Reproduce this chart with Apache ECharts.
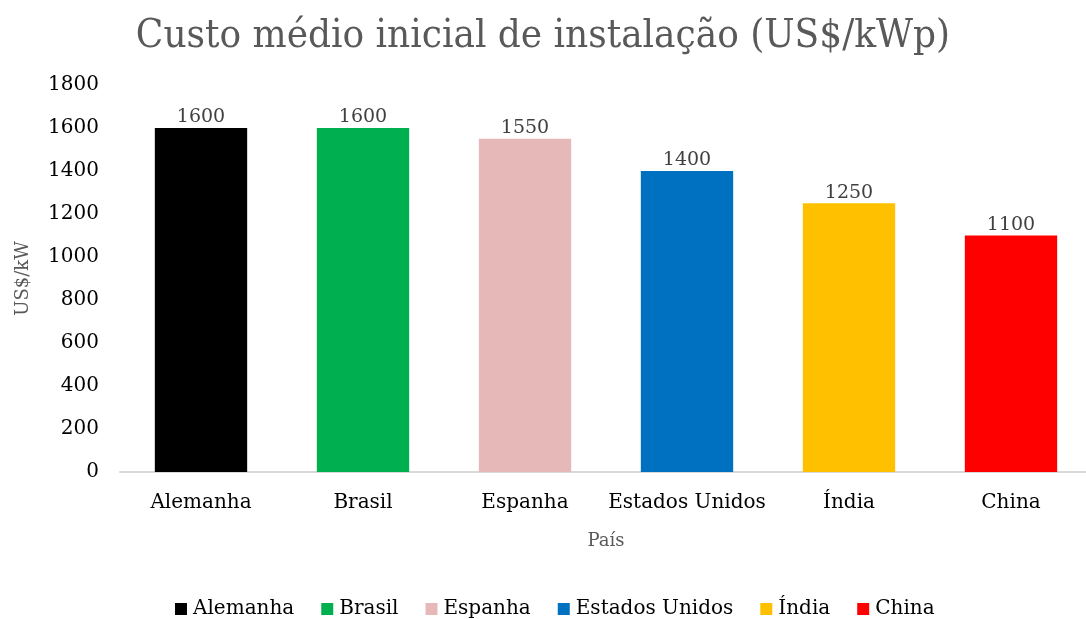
<!DOCTYPE html>
<html lang="pt" style="width: 100%;height:100%">
    <head>
        <meta charset="UTF-8">
        <title>Custo médio</title>
        <script src="https://cdn.jsdelivr.net/npm/echarts@6/dist/echarts.min.js"></script>
    </head>
    <body style="width: 100%;height:100%;margin:0">
        <div id="column" style="width: 1086px;height:619px"></div>
        <script>
            // dados
            const countries = ['Alemanha', 'Brasil', 'Espanha', 'Estados Unidos', 'Índia', 'China'];
            const costs = [1600, 1600, 1550, 1400, 1250, 1100];
            const colors = ['#000000', '#00b050', '#e6b9b8', '#0070c0', '#ffc000', '#ff0000'];
            const yTicks = [0, 200, 400, 600, 800, 1000, 1200, 1400, 1600, 1800];

            const serif = 'DejaVu Serif';
            const condensed = 'DejaVu Serif Condensed';

            // uma série por país, para a legenda
            const series = [];
            for (let i = 0; i < countries.length; i++) {
                const data = countries.map(function (c, j) { return j === i ? costs[i] : null; });
                series.push({
                    name: countries[i],
                    type: 'bar',
                    barWidth: '57%',
                    barGap: '-100%',
                    itemStyle: { color: colors[i] },
                    label: {
                        show: true,
                        position: 'top',
                        distance: 1,
                        color: '#404040',
                        fontFamily: serif,
                        fontSize: 19
                    },
                    data: data
                });
            }

            const myChart = echarts.init(document.getElementById('column'));

            const option = {
                animation: false,
                title: {
                    text: 'Custo médio inicial de instalação (US$/kWp)',
                    left: 'center',
                    top: 12,
                    textStyle: {
                        fontFamily: condensed,
                        fontWeight: 'normal',
                        fontSize: 40,
                        color: '#595959'
                    }
                },
                legend: {
                    bottom: -5,
                    left: 170,
                    icon: 'rect',
                    itemWidth: 12,
                    itemHeight: 12,
                    itemGap: 27,
                    textStyle: {
                        fontFamily: serif,
                        fontSize: 20,
                        color: '#000000',
                        padding: [0, 0, 0, 1]
                    },
                    data: countries
                },
                grid: {
                    left: 120,
                    width: 972,
                    top: 85,
                    bottom: 147,
                    outerBoundsMode: 'none'
                },
                xAxis: {
                    type: 'category',
                    data: countries,
                    name: 'País',
                    nameLocation: 'middle',
                    nameGap: 60,
                    nameTextStyle: {
                        fontFamily: serif,
                        fontSize: 18,
                        color: '#595959'
                    },
                    axisLine: { lineStyle: { color: '#d9d9d9', width: 2 } },
                    axisTick: { show: false },
                    axisLabel: {
                        interval: 0,
                        fontFamily: serif,
                        fontSize: 20,
                        color: '#000000',
                        margin: 21
                    }
                },
                yAxis: {
                    type: 'value',
                    min: yTicks[0],
                    max: yTicks[yTicks.length - 1],
                    interval: yTicks[1] - yTicks[0],
                    name: 'US$/kW',
                    nameLocation: 'middle',
                    nameGap: 88,
                    nameTextStyle: {
                        fontFamily: serif,
                        fontSize: 18,
                        color: '#595959'
                    },
                    splitLine: { show: false },
                    axisLine: { show: false },
                    axisTick: { show: false },
                    axisLabel: {
                        fontFamily: serif,
                        fontSize: 20,
                        color: '#000000',
                        margin: 21,
                        formatter: function (v) { return String(v); }
                    }
                },
                series: series
            };

            myChart.setOption(option);
        </script>
    </body>
</html>
